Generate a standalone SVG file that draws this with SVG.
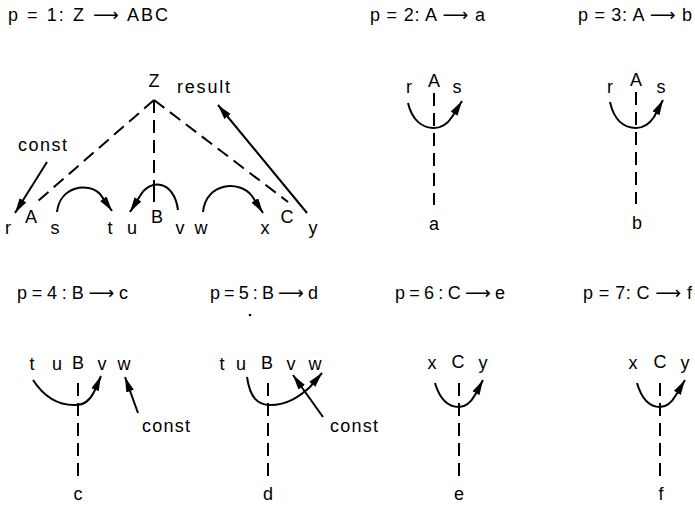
<svg xmlns="http://www.w3.org/2000/svg" width="695" height="510" viewBox="0 0 695 510">
<style>
text{font-family:"Liberation Sans","DejaVu Sans",sans-serif;font-size:18px;fill:#000}
.m{text-anchor:middle}
.d{fill:none;stroke:#000;stroke-width:2;stroke-dasharray:13 7}
.s{fill:none;stroke:#000;stroke-width:2}
.a{fill:none;stroke:#000;stroke-width:2;marker-end:url(#ah)}
</style>
<defs>
<marker id="ah" markerUnits="userSpaceOnUse" markerWidth="18" markerHeight="10" refX="15" refY="4" orient="auto">
<path d="M0,0 L15,4 L0,8 Z" fill="#000"/>
</marker>
</defs>
<g id="connectors">
<path class="d" d="M154,100 L38,201"/>
<path class="d" d="M154,100 L154,186"/>
<path class="s" d="M154,186 L154,202"/>
<path class="d" d="M154,100 L288,202"/>
<path class="a" d="M307,213 L218,105"/>
<path class="a" d="M47,162 L15,213"/>
<path class="a" d="M57,212 C60,186 88,182 100,194 L112,211"/>
<path class="a" d="M178,210 C174,180 150,178 140,196 L130,212"/>
<path class="a" d="M203,212 C206,182 240,180 252,196 L263,213"/>
<path class="d" d="M434,93 L434,205"/>
<path class="a" d="M408,103 C412,120 422,128 434,128 C442,128 448,123 452,117 L462,101"/>
<path class="d" d="M636,92 L636,204"/>
<path class="a" d="M610,102 C614,120 624,128 636,128 C644,128 650,123 654,117 L663,100"/>
<path class="d" d="M78,383 L78,483"/>
<path class="a" d="M33,380 Q50,406 76,405 C84,405 90,400 94,392 L101,376"/>
<path class="a" d="M138,413 L125,377"/>
<path class="d" d="M268,383 L268,483"/>
<path class="a" d="M247,377 C250,398 258,405 270,405 C288,405 300,396 310,387 L322,373"/>
<path class="a" d="M323,417 L293,375"/>
<path class="d" d="M459,383 L459,483"/>
<path class="a" d="M435,383 C440,400 448,407 459,407 C466,407 471,402 475,395 L483,380"/>
<path class="d" d="M660,383 L660,483"/>
<path class="a" d="M637,383 C642,400 650,407 660,407 C667,407 672,402 676,395 L685,380"/>
<circle cx="250" cy="315" r="1.3" fill="#000"/>
</g>
<g id="title1"><text x="8" y="21" textLength="160" lengthAdjust="spacing">p = 1: Z ⟶ ABC</text></g>
<g id="title2"><text x="370" y="21" textLength="115" lengthAdjust="spacing">p = 2: A ⟶ a</text></g>
<g id="title3"><text x="578" y="21" textLength="114" lengthAdjust="spacing">p = 3: A ⟶ b</text></g>
<g id="title4"><text x="17" y="299" textLength="111" lengthAdjust="spacing">p = 4 : B ⟶ c</text></g>
<g id="title5"><text x="210" y="299" textLength="108" lengthAdjust="spacing">p = 5 : B ⟶ d</text></g>
<g id="title6"><text x="395" y="299" textLength="110" lengthAdjust="spacing">p = 6 : C ⟶ e</text></g>
<g id="title7"><text x="583" y="299" textLength="109" lengthAdjust="spacing">p = 7: C ⟶ f</text></g>
<g id="p1">
<g id="p1-Z"><text class="m" x="154" y="87">Z</text></g>
<g id="p1-result"><text x="177" y="93" textLength="53" lengthAdjust="spacing">result</text></g>
<g id="p1-const"><text x="18" y="151" textLength="49" lengthAdjust="spacing">const</text></g>
<g id="p1-r"><text class="m" x="8" y="234">r</text></g>
<g id="p1-A"><text class="m" x="31" y="223">A</text></g>
<g id="p1-s"><text class="m" x="55" y="234">s</text></g>
<g id="p1-t"><text class="m" x="110" y="234">t</text></g>
<g id="p1-u"><text class="m" x="132" y="234">u</text></g>
<g id="p1-B"><text class="m" x="157" y="223">B</text></g>
<g id="p1-v"><text class="m" x="180" y="234">v</text></g>
<g id="p1-w"><text class="m" x="201" y="234">w</text></g>
<g id="p1-x"><text class="m" x="265" y="234">x</text></g>
<g id="p1-C"><text class="m" x="287" y="223">C</text></g>
<g id="p1-y"><text class="m" x="313" y="234">y</text></g>
</g>
<g id="p2">
<g id="p2-r"><text class="m" x="409" y="93">r</text></g>
<g id="p2-A"><text class="m" x="434" y="87">A</text></g>
<g id="p2-s"><text class="m" x="457" y="93">s</text></g>
<g id="p2-a"><text class="m" x="434" y="230">a</text></g>
</g>
<g id="p3">
<g id="p3-r"><text class="m" x="610" y="93">r</text></g>
<g id="p3-A"><text class="m" x="636" y="86">A</text></g>
<g id="p3-s"><text class="m" x="661" y="93">s</text></g>
<g id="p3-b"><text class="m" x="637" y="229">b</text></g>
</g>
<g id="p4">
<g id="p4-t"><text class="m" x="32" y="370">t</text></g>
<g id="p4-u"><text class="m" x="57" y="370">u</text></g>
<g id="p4-B"><text class="m" x="78" y="369">B</text></g>
<g id="p4-v"><text class="m" x="102" y="370">v</text></g>
<g id="p4-w"><text class="m" x="124" y="370">w</text></g>
<g id="p4-const"><text x="142" y="432" textLength="48" lengthAdjust="spacing">const</text></g>
<g id="p4-c"><text class="m" x="78" y="500">c</text></g>
</g>
<g id="p5">
<g id="p5-t"><text class="m" x="222" y="370">t</text></g>
<g id="p5-u"><text class="m" x="241" y="370">u</text></g>
<g id="p5-B"><text class="m" x="267" y="369">B</text></g>
<g id="p5-v"><text class="m" x="291" y="370">v</text></g>
<g id="p5-w"><text class="m" x="315" y="370">w</text></g>
<g id="p5-const"><text x="330" y="432" textLength="48" lengthAdjust="spacing">const</text></g>
<g id="p5-d"><text class="m" x="268" y="500">d</text></g>
</g>
<g id="p6">
<g id="p6-x"><text class="m" x="432" y="369">x</text></g>
<g id="p6-C"><text class="m" x="458" y="368">C</text></g>
<g id="p6-y"><text class="m" x="483" y="369">y</text></g>
<g id="p6-e"><text class="m" x="459" y="500">e</text></g>
</g>
<g id="p7">
<g id="p7-x"><text class="m" x="633" y="369">x</text></g>
<g id="p7-C"><text class="m" x="660" y="368">C</text></g>
<g id="p7-y"><text class="m" x="685" y="369">y</text></g>
<g id="p7-f"><text class="m" x="661" y="500">f</text></g>
</g>
</svg>
